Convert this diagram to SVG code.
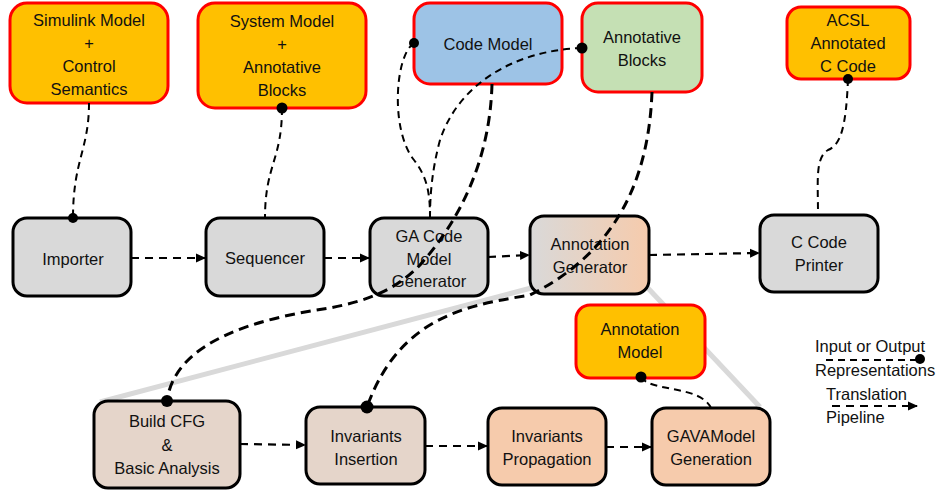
<svg xmlns="http://www.w3.org/2000/svg" width="945" height="493" viewBox="0 0 945 493">
<defs>
<linearGradient id="gradAG" x1="0" y1="0" x2="1" y2="0">
<stop offset="0" stop-color="#D9D9D9"/>
<stop offset="1" stop-color="#F6CBAC"/>
</linearGradient>
<marker id="arr" markerWidth="10" markerHeight="10" refX="9" refY="5" orient="auto" markerUnits="userSpaceOnUse">
<path d="M0,0.5 L10,5 L0,9.5 Z" fill="#000"/>
</marker>
</defs>
<style>
.io rect{fill:#FFC000;stroke:#FF0000;stroke-width:3}
.proc rect{stroke:#000;stroke-width:3}
text{font-family:"Liberation Sans",Arial,sans-serif;font-size:16.5px;fill:#111;text-anchor:middle}
.legend text{text-anchor:start}
.gray{stroke:#D9D9D9;stroke-width:5;fill:none}
.thin{stroke:#000;stroke-width:2;stroke-dasharray:7 5;fill:none}
.heavy{stroke:#000;stroke-width:3;stroke-dasharray:10 6;fill:none}
.pipe{stroke:#000;stroke-width:2.2;stroke-dasharray:8 6;fill:none;marker-end:url(#arr)}
.dot{fill:#000}
</style>

<g id="zoomlines">
<line class="gray" x1="535" y1="287" x2="100" y2="402"/>
<line class="gray" x1="645" y1="285" x2="760" y2="407"/>
</g>

<g id="simulink" class="io"><rect x="10" y="3" width="158" height="100" rx="17"/>
<text x="89" y="26">Simulink Model</text><text x="89" y="49">+</text><text x="89" y="72">Control</text><text x="89" y="95">Semantics</text></g>
<g id="systemmodel" class="io"><rect x="198" y="3" width="168" height="105" rx="17"/>
<text x="282" y="27">System Model</text><text x="282" y="50">+</text><text x="282" y="73">Annotative</text><text x="282" y="96">Blocks</text></g>
<g id="codemodel"><rect x="414" y="3" width="148" height="81" rx="16" fill="#9DC3E6" stroke="#FF0000" stroke-width="3"/>
<text x="488" y="50">Code Model</text></g>
<g id="annotativeblocks"><rect x="582" y="3" width="120" height="89" rx="16" fill="#C5E0B4" stroke="#FF0000" stroke-width="3"/>
<text x="642" y="43">Annotative</text><text x="642" y="66">Blocks</text></g>
<g id="acsl" class="io"><rect x="787" y="7" width="123" height="72" rx="14"/>
<text x="848" y="26">ACSL</text><text x="848" y="49">Annotated</text><text x="848" y="72">C Code</text></g>

<g id="importer" class="proc"><rect x="13" y="218" width="118" height="78" rx="14" fill="#D9D9D9"/>
<text x="73" y="265">Importer</text></g>
<g id="sequencer" class="proc"><rect x="206" y="218" width="118" height="78" rx="14" fill="#D9D9D9"/>
<text x="265" y="264">Sequencer</text></g>
<g id="gacodegen" class="proc"><rect x="370" y="218" width="118" height="78" rx="14" fill="#D9D9D9"/>
<text x="429" y="242">GA Code</text><text x="429" y="265">Model</text><text x="429" y="287">Generator</text></g>
<g id="annotationgen" class="proc"><rect x="530" y="216" width="119" height="78" rx="14" fill="url(#gradAG)"/>
<text x="590" y="250">Annotation</text><text x="590" y="273">Generator</text></g>
<g id="ccodeprinter" class="proc"><rect x="760" y="215" width="118" height="77" rx="14" fill="#D9D9D9"/>
<text x="819" y="248">C Code</text><text x="819" y="271">Printer</text></g>

<g id="annotationmodel" class="io"><rect x="576" y="305" width="129" height="73" rx="14"/>
<text x="640" y="335">Annotation</text><text x="640" y="358">Model</text></g>
<g id="buildcfg" class="proc"><rect x="94" y="401" width="146" height="87" rx="14" fill="#E5D5CA"/>
<text x="167" y="427">Build CFG</text><text x="167" y="451">&amp;</text><text x="167" y="474">Basic Analysis</text></g>
<g id="invinsertion" class="proc"><rect x="306" y="407" width="119" height="77" rx="14" fill="#E5D5CA"/>
<text x="366" y="442">Invariants</text><text x="366" y="465">Insertion</text></g>
<g id="invpropagation" class="proc"><rect x="488" y="408" width="118" height="77" rx="14" fill="#F6CBAC"/>
<text x="547" y="442">Invariants</text><text x="547" y="465">Propagation</text></g>
<g id="gavagen" class="proc"><rect x="652" y="408" width="118" height="77" rx="14" fill="#F6CBAC"/>
<text x="711" y="442">GAVAModel</text><text x="711" y="465">Generation</text></g>

<g id="connectors">
<path class="thin" d="M89 103 C89 150 73 160 73 218"/>
<circle class="dot" cx="73" cy="218" r="5"/>
<path class="thin" d="M282 108 C282 160 265 165 265 218"/>
<circle class="dot" cx="282" cy="108" r="5.5"/>
<path class="thin" d="M414 43 C395 55 390 130 414 160 C428 178 430 195 430 218"/>
<circle class="dot" cx="414" cy="43" r="5"/>
<path class="thin" d="M582 48 C520 50 460 80 440 140 C432 170 430 195 430 218"/>
<circle class="dot" cx="582" cy="48" r="5.5"/>
<path class="heavy" d="M492 84 C490 160 460 220 420 265 C395 290 370 300 330 308 C260 318 175 340 167 401"/>
<circle class="dot" cx="167" cy="401" r="6"/>
<path class="heavy" d="M652 92 C648 200 600 260 530 295 C470 305 400 315 367 407"/>
<circle class="dot" cx="367" cy="407" r="6.5"/>
<path class="thin" d="M848 79 C846 130 840 145 828 150 C815 158 818 180 818 215"/>
<circle class="dot" cx="848" cy="79" r="5"/>
<path class="thin" d="M641 377 C650 392 700 385 711 408"/>
<circle class="dot" cx="641" cy="377" r="5.5"/>

<path class="pipe" d="M131 258 L205 258"/>
<path class="pipe" d="M324 258 L369 258"/>
<path class="pipe" d="M488 257 L529 255"/>
<path class="pipe" d="M649 255 L759 253"/>
<path class="pipe" d="M240 444 L305 445"/>
<path class="pipe" d="M425 446 L487 446"/>
<path class="pipe" d="M606 447 L651 447"/>
</g>

<g id="legend" class="legend">
<text x="815" y="352">Input or Output</text>
<text x="815" y="376">Representations</text>
<path class="thin" d="M826 360 L920 360"/>
<circle class="dot" cx="920" cy="359" r="5"/>
<text x="826" y="400">Translation</text>
<text x="826" y="423">Pipeline</text>
<path class="pipe" d="M832 406 L917 406"/>
</g>
</svg>
